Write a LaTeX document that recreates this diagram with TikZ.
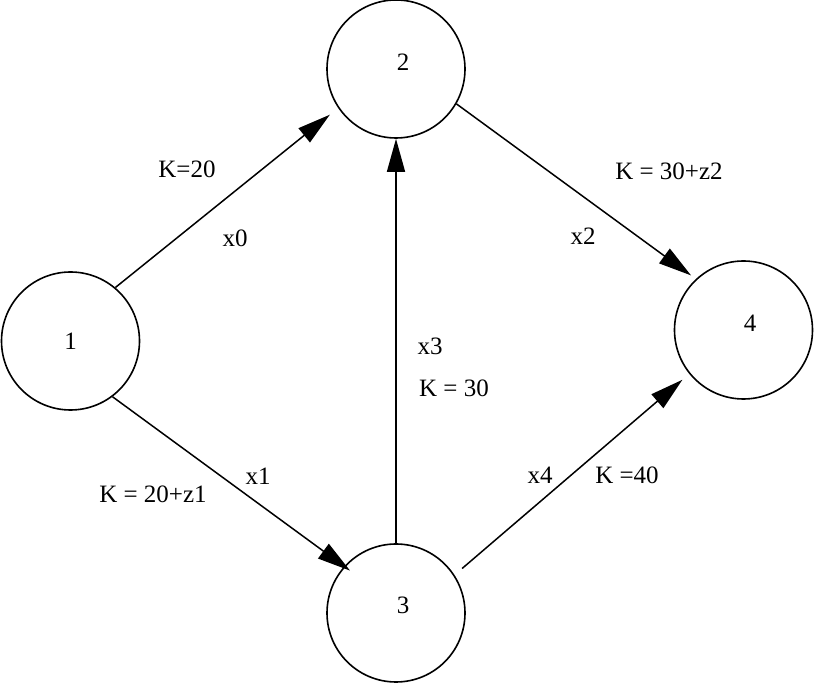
\documentclass[tikz,border=0pt]{standalone}
\usepackage{fontspec}
\setmainfont{Liberation Serif}
\usetikzlibrary{arrows.meta}
\begin{document}
\begin{tikzpicture}[x=1pt,y=1pt,
  state/.style={circle,draw,line width=1.6pt,minimum size=138pt,inner sep=0pt},
  lbl/.style={inner sep=0pt,font=\fontsize{25}{29}\selectfont},
  arr/.style={line width=1.5pt,-{Triangle[length=33pt,width=18pt]}}]
\useasboundingbox (0,0) rectangle (815,683);
\node[state,label={[lbl]center:1}] (n1) at (70.5,342) {};
\node[state,label={[lbl,xshift=7pt,yshift=7pt]center:2}] (n2) at (396,614) {};
\node[state,label={[lbl,xshift=7pt,yshift=8pt]center:3}] (n3) at (396,70) {};
\node[state,label={[lbl,xshift=6.5pt,yshift=7pt]center:4}] (n4) at (743.5,353) {};
\draw[arr,shorten >=10.6pt] (n1.50) -- (n2.214);
\draw[arr,shorten >=-7.3pt] (n1.-53.5) -- (n3.138.3);
\draw[arr] (n3.north) -- (n2.south);
\draw[arr,shorten >=6pt] (n2.330) -- (n4.133.1);
\draw[arr,shorten <=10pt,shorten >=9pt] (n3.33.7) -- (n4.219.6);
\node[lbl] (k0) at (187,514) {K=20};
\node[lbl] (x0) at (235,445) {x0};
\node[lbl] (k2) at (669,512) {K = 30+z2};
\node[lbl] (x2) at (583,447) {x2};
\node[lbl] (x3) at (430,337) {x3};
\node[lbl] (k3) at (454,295) {K = 30};
\node[lbl] (k1) at (153,189) {K = 20+z1};
\node[lbl] (x1) at (258,207) {x1};
\node[lbl] (x4) at (540,208) {x4};
\node[lbl] (k4) at (627,208) {K =40};
\end{tikzpicture}
\end{document}
